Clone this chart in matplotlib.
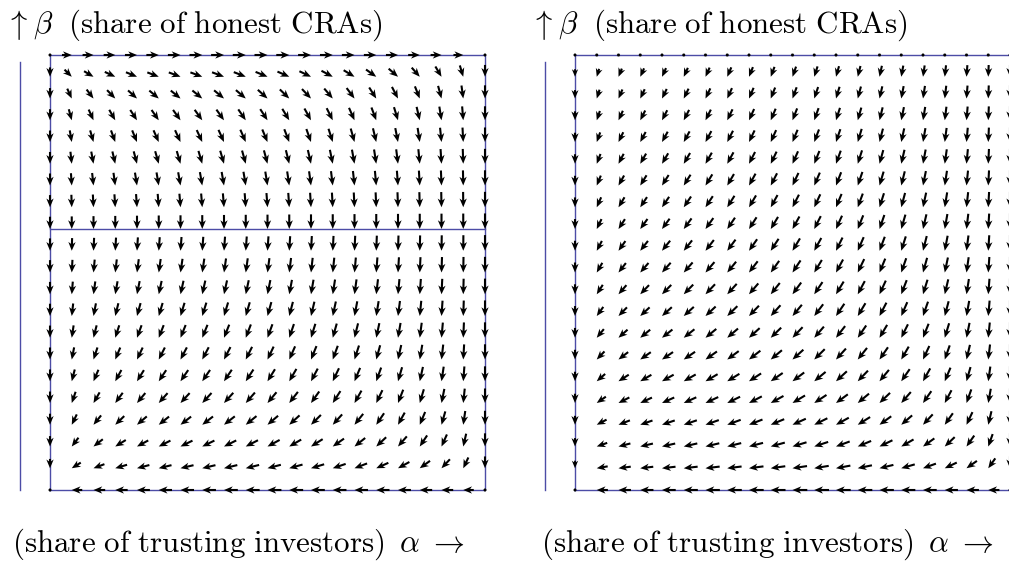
import numpy as np
import matplotlib
matplotlib.use("Agg")
import matplotlib.pyplot as plt

plt.rcParams["mathtext.fontset"] = "cm"

# Grid of population shares (21 x 21 sample points)
alpha_grid = np.linspace(0.0, 1.0, 21)
beta_grid = np.linspace(0.0, 1.0, 21)

# Replicator-dynamics parameters, one entry per scenario (left, right)
beta_threshold = [0.6, 1.0]        # honest share above which trusting pays off
trust_rate = [1.0, 1.0]            # speed of the investors' adjustment
honesty_loss_base = [0.3, 0.1]     # CRA incentive to inflate when nobody trusts
honesty_loss_slope = [0.9, 1.3]    # extra incentive to inflate per trusting share

# Text pieces
y_arrow = r"$\uparrow$"
y_symbol = r"$\beta$"
y_text = r"$\mathrm{(share\ of\ honest\ CRAs)}$"
x_text = r"$\mathrm{(share\ of\ trusting\ investors)}$"
x_symbol = r"$\alpha$"
x_arrow = r"$\rightarrow$"

frame_color = "#4c4ca6"
max_len = 0.036      # longest arrow in data units
len_power = 0.17     # compress the range of arrow lengths

fig = plt.figure(figsize=(10.09, 5.62), dpi=100)

W, H = 1009.0, 562.0
panel_px = 435.0
panel_left_px = [50.0, 575.0]
panel_top_px = 55.0
fs = 22.3

A, B = np.meshgrid(alpha_grid, beta_grid)

for k in range(2):
    ax = fig.add_axes([panel_left_px[k] / W, (H - panel_top_px - panel_px) / H,
                       panel_px / W, panel_px / H])
    ax.set_xlim(0, 1)
    ax.set_ylim(0, 1)
    ax.axis("off")

    dA = trust_rate[k] * A * (1 - A) * (B - beta_threshold[k])
    dB = -B * (1 - B) * (honesty_loss_base[k] + honesty_loss_slope[k] * A)
    mag = np.hypot(dA, dB)
    mmax = mag.max()
    safe = np.where(mag > 0, mag, 1.0)
    length = np.where(mag > 0, max_len * (mag / mmax) ** len_power, 0.0)
    U = dA / safe * length
    V = dB / safe * length

    # frame of the unit square
    ax.plot([0, 1, 1, 0, 0], [0, 0, 1, 1, 0], color=frame_color, lw=1.0,
            clip_on=False, zorder=1)
    # nullcline of the investors' dynamics
    if beta_threshold[k] < 1.0:
        ax.plot([0, 1], [beta_threshold[k]] * 2, color=frame_color, lw=1.0,
                clip_on=False, zorder=1)
    # vertical axis line beside the panel
    ax.plot([-0.069, -0.069], [0.0, 0.984], color=frame_color, lw=1.0,
            clip_on=False, zorder=1)

    q = ax.quiver(A, B, U, V, angles="xy", scale_units="xy", scale=1,
                  pivot="tip", color="black", width=0.0048,
                  headwidth=3.5, headlength=4.2, headaxislength=3.3,
                  minlength=1.6, zorder=3)
    q.set_clip_on(False)

    x0 = panel_left_px[k]
    fig.text((x0 - 45) / W, 1 - 34 / H, y_arrow, fontsize=fs + 1,
             ha="left", va="baseline")
    fig.text((x0 - 17) / W, 1 - 33 / H, y_symbol, fontsize=fs,
             ha="left", va="baseline")
    fig.text((x0 + 18) / W, 1 - 33 / H, y_text, fontsize=fs,
             ha="left", va="baseline")

    xo = 0 if k == 0 else 4
    fig.text((x0 - 38 + xo) / W, 1 - 552 / H, x_text, fontsize=fs,
             ha="left", va="baseline")
    fig.text((x0 + 349 + xo) / W, 1 - 552 / H, x_symbol, fontsize=fs,
             ha="left", va="baseline")
    fig.text((x0 + 378 + xo) / W, 1 - 552 / H, x_arrow, fontsize=fs,
             ha="left", va="baseline")

fig.savefig("out.png", dpi=100)
